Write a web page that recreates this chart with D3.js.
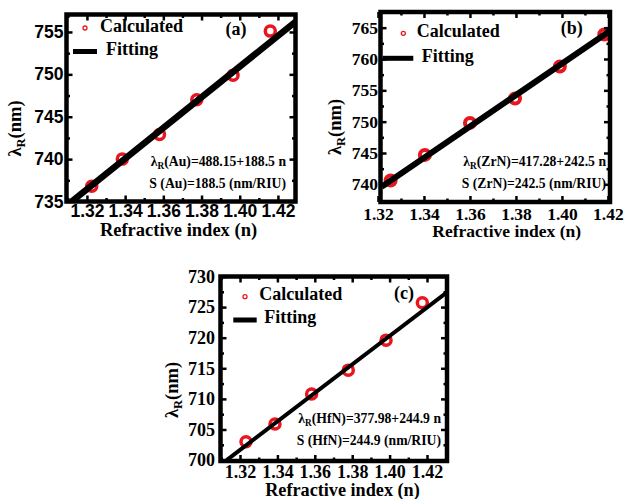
<!DOCTYPE html>
<meta charset="utf-8">
<style>
body { margin: 0; background: #fff; }
svg text { font-family: "Liberation Serif", "Times New Roman", serif; font-weight: bold; fill: #000; }
</style>
<svg width="627" height="499"></svg>
<script src="https://d3js.org/d3.v7.min.js"></script>
<script>
// panel (a) Au
var nA = [1.3225, 1.3385, 1.358, 1.3775, 1.3965, 1.416];
var lamA = [736.8, 740, 742.9, 747, 749.9, 755.1];
var fitNA = [1.312, 1.4292], fitLA = [735, 756.2];
// panel (b) ZrN
var nB = [1.3255, 1.3404, 1.36, 1.3796, 1.3991, 1.4184];
var lamB = [740.6, 744.7, 749.8, 753.7, 758.8, 763.9];
var fitNB = [1.3216, 1.4213], fitLB = [739.6, 764.6];
// panel (c) HfN
var nC = [1.3232, 1.3387, 1.3583, 1.3779, 1.3981, 1.4175];
var lamC = [703, 705.9, 710.8, 714.7, 719.6, 725.7];
var fitNC = [1.3129, 1.431], fitLC = [700, 727.5];

var xTicks = [1.32, 1.34, 1.36, 1.38, 1.40, 1.42];
var xMinor = [1.31, 1.33, 1.35, 1.37, 1.39, 1.41, 1.43];
var yTicksA = [735, 740, 745, 750, 755];
var yTicksB = [740, 745, 750, 755, 760, 765];
var yTicksC = [700, 705, 710, 715, 720, 725, 730];
var eqA = ["(Au)=488.15+188.5 n", "S (Au)=188.5 (nm/RIU)"];
var eqB = ["(ZrN)=417.28+242.5 n", "S (ZrN)=242.5 (nm/RIU)"];
var eqC = ["(HfN)=377.98+244.9 n", "S (HfN)=244.9 (nm/RIU)"];

var svg = d3.select("svg");
var red = "#e8161e";
var sans = '"Liberation Sans", Arial, sans-serif';
var serif = '"Liberation Serif", "Times New Roman", serif';

function panel(p, id) {
  var x = d3.scaleLinear().domain(p.xDom).range([p.left, p.right]),
      y = d3.scaleLinear().domain(p.yDom).range([p.bottom, p.top]);
  var g = svg.append("g");

  g.append("clipPath").attr("id", "clip" + id)
    .append("rect").attr("x", p.left).attr("y", p.top)
    .attr("width", p.right - p.left).attr("height", p.bottom - p.top);

  var plot = g.append("g").attr("clip-path", "url(#clip" + id + ")");
  plot.selectAll("circle").data(p.n).enter().append("circle")
      .attr("cx", function(d) { return x(d); })
      .attr("cy", function(d, i) { return y(p.lam[i]); })
      .attr("r", p.r)
      .attr("fill", "none").attr("stroke", red).attr("stroke-width", p.rw);
  plot.append("line")
      .attr("x1", x(p.fitN[0])).attr("y1", y(p.fitL[0]))
      .attr("x2", x(p.fitN[1])).attr("y2", y(p.fitL[1]))
      .attr("stroke", "#000").attr("stroke-width", p.lw);

  var font = p.sans ? sans : serif;
  var yMinor = [];
  p.yTicks.forEach(function(t) { yMinor.push(t + 2.5); });
  yMinor = yMinor.filter(function(t) { return t < p.yDom[1]; });
  var xm = xMinor.filter(function(t) { return t > p.xDom[0] && t < p.xDom[1]; });

  function ax(a, vals, size, labels, pad, tr) {
    var s = g.append("g").attr("transform", tr)
      .call(a.tickValues(vals).tickSize(size).tickPadding(pad)
        .tickFormat(labels ? labels : function() { return ""; }));
    s.select(".domain").remove();
    s.selectAll("line").attr("stroke", "#000").attr("stroke-width", 2.5);
    s.selectAll("text").attr("fill", "#000")
      .style("font-size", p.tickFs + "px").style("font-family", font).style("font-weight", "bold");
    return s;
  }
  var fmt = d3.format(".2f");
  ax(d3.axisBottom(x), xTicks, -6, fmt, p.xPad, "translate(0," + p.bottom + ")");
  ax(d3.axisBottom(x), xm, -3.5, null, 0, "translate(0," + p.bottom + ")");
  ax(d3.axisTop(x), xTicks, -6, null, 0, "translate(0," + p.top + ")");
  ax(d3.axisTop(x), xm, -3.5, null, 0, "translate(0," + p.top + ")");
  ax(d3.axisLeft(y), p.yTicks, -6, d3.format("d"), p.yPad, "translate(" + p.left + ",0)");
  ax(d3.axisLeft(y), yMinor, -3.5, null, 0, "translate(" + p.left + ",0)");
  ax(d3.axisRight(y), p.yTicks, -6, null, 0, "translate(" + p.right + ",0)");
  ax(d3.axisRight(y), yMinor, -3.5, null, 0, "translate(" + p.right + ",0)");

  g.append("rect").attr("x", p.left).attr("y", p.top)
    .attr("width", p.right - p.left).attr("height", p.bottom - p.top)
    .attr("fill", "none").attr("stroke", "#000").attr("stroke-width", 4.5);

  // legend
  g.append("circle").attr("cx", p.leg[0]).attr("cy", p.leg[1]).attr("r", 2)
    .attr("fill", "none").attr("stroke", red).attr("stroke-width", 1.3);
  g.append("text").attr("x", p.leg[2]).attr("y", p.leg[3]).text("Calculated").style("font-size", "18px");
  g.append("line").attr("x1", p.leg[4]).attr("x2", p.leg[5]).attr("y1", p.leg[6]).attr("y2", p.leg[6])
    .attr("stroke", "#000").attr("stroke-width", 5);
  g.append("text").attr("x", p.leg[7]).attr("y", p.leg[8]).text("Fitting").style("font-size", "18px");
  g.append("text").attr("x", p.tag[0]).attr("y", p.tag[1]).attr("text-anchor", "middle")
    .text(p.tag[2]).style("font-size", "18px");

  // equations
  var e1 = g.append("text").attr("x", p.eq[0]).attr("y", p.eq[1]).attr("text-anchor", "end")
    .style("font-size", p.eqFs + "px");
  e1.append("tspan").text("λ");
  e1.append("tspan").attr("dy", 3).style("font-size", (p.eqFs * 0.68) + "px").text("R");
  e1.append("tspan").attr("dy", -3).text(p.eqText[0]);
  g.append("text").attr("x", p.eq[0]).attr("y", p.eq[2]).attr("text-anchor", "end")
    .style("font-size", p.eqFs + "px").text(p.eqText[1]);

  // axis titles
  g.append("text").attr("x", p.xt[0]).attr("y", p.xt[1]).attr("text-anchor", "middle")
    .style("font-size", p.xt[2] + "px").text("Refractive index (n)");
  var yt = g.append("text").attr("text-anchor", "middle")
    .attr("transform", "translate(" + p.yt[0] + "," + p.yt[1] + ") rotate(-90)")
    .style("font-size", "18.5px");
  yt.append("tspan").text("λ");
  yt.append("tspan").attr("dy", 4).style("font-size", "12.5px").text("R");
  yt.append("tspan").attr("dy", -4).text("(nm)");
}

panel({
  left: 66.5, right: 295.5, top: 14.5, bottom: 201.5,
  xDom: [1.3093, 1.4292], yDom: [735, 757.06],
  n: nA, lam: lamA, fitN: fitNA, fitL: fitLA, r: 5, rw: 3.5, lw: 6.5,
  yTicks: yTicksA, sans: true, tickFs: 17.5, xPad: 3.5, yPad: 3,
  leg: [85, 28, 100, 31.7, 73, 97, 51.5, 106, 55], tag: [236, 35, "(a)"],
  eq: [286, 166, 188], eqFs: 13.7, eqText: eqA,
  xt: [178.5, 236, 18.5], yt: [21, 128.5]
}, "a");

panel({
  left: 380.5, right: 610, top: 12, bottom: 202,
  xDom: [1.3211, 1.4209], yDom: [737.18, 767.5],
  n: nB, lam: lamB, fitN: fitNB, fitL: fitLB, r: 5, rw: 4, lw: 6,
  yTicks: yTicksB, sans: false, tickFs: 17.5, xPad: 6, yPad: 2.5,
  leg: [403.3, 33.3, 416.7, 37.3, 382.7, 413.3, 58.3, 421.7, 61.5], tag: [571.7, 33.5, "(b)"],
  eq: [606, 166, 188], eqFs: 13.7, eqText: eqB,
  xt: [506.7, 236.5, 17.5], yt: [341, 127]
}, "b");

panel({
  left: 220.5, right: 447, top: 276.5, bottom: 461,
  xDom: [1.30957, 1.43069], yDom: [699.85, 730],
  n: nC, lam: lamC, fitN: fitNC, fitL: fitLC, r: 5, rw: 3.5, lw: 4,
  yTicks: yTicksC, sans: false, tickFs: 18, xPad: 4.5, yPad: 5.5,
  leg: [245, 296.7, 259.3, 299.5, 233.3, 256.7, 320, 264.3, 322.7], tag: [404, 298.5, "(c)"],
  eq: [441, 423, 445], eqFs: 13.7, eqText: eqC,
  xt: [342.5, 496, 18.2], yt: [178, 390]
}, "c");
</script>
